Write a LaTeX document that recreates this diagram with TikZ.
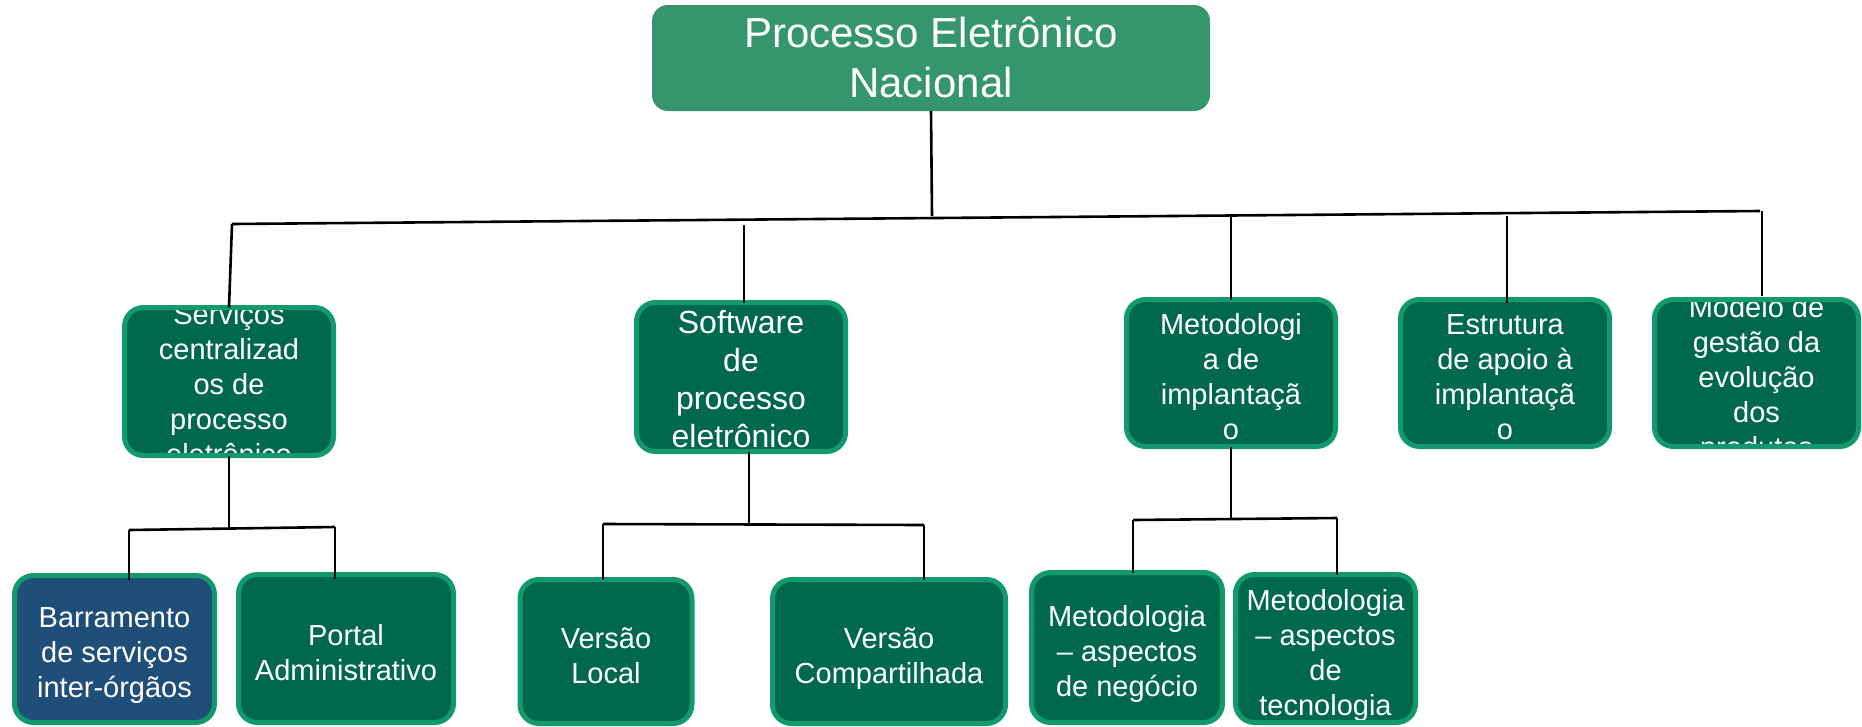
\documentclass[tikz,border=0pt]{standalone}
\usepackage{fontspec}
\setmainfont{Liberation Sans}
\definecolor{topfill}{HTML}{35966E}
\definecolor{dkfill}{HTML}{00694C}
\definecolor{bdcol}{HTML}{12996D}
\definecolor{bluefill}{HTML}{1F4E79}
\newcommand\mkbox[8]{%
  \node[boxbase, fill=#6, minimum width=#4pt, minimum height=#5pt] (#1) at (#2,#3) {};
  \node[lbl, #7] (#1t) at (#2,#3) {#8};
  \draw[bdcol, line width=5pt, rounded corners=19pt] (#1.south west) rectangle (#1.north east);
}
\begin{document}
\begin{tikzpicture}[x=1pt,y=-1pt,
  boxbase/.style={rectangle, rounded corners=19pt, inner sep=0pt, outer sep=0pt, draw=none},
  lbl/.style={text=white, align=center, inner sep=0pt, font=\fontsize{29}{35}\selectfont,
    execute at begin node=\strut, execute at end node=\strut, yshift=-9pt},
  big/.style={font=\fontsize{32}{38}\selectfont, yshift=1.5pt},
  conn/.style={line width=2.6pt, black}]
\useasboundingbox (0,0) rectangle (1862,726);
% top box
\node[boxbase, rounded corners=16pt, fill=topfill, minimum width=558pt, minimum height=106pt] (top) at (931,58) {};
\node[lbl, font=\fontsize{42}{50}\selectfont, yshift=2pt] (topt) at (931,58) {Processo Eletrônico\\Nacional};
% level 2
\mkbox{s1}{229}{381.5}{209}{148}{dkfill}{yshift=1.5pt}{Serviços\\centralizad\\os de\\processo\\eletrônico}
\mkbox{s2}{741}{377}{209}{149}{dkfill}{big}{Software\\de\\processo\\eletrônico}
\mkbox{s3}{1231}{373}{209}{147}{dkfill}{}{Metodologi\\a de\\implantaçã\\o}
\mkbox{s4}{1505}{373}{209}{147}{dkfill}{}{Estrutura\\de apoio à\\implantaçã\\o}
\mkbox{s5}{1756.5}{373}{204}{147}{dkfill}{}{Modelo de\\gestão da\\evolução\\dos\\produtos}
% level 3
\mkbox{c1}{114.5}{649}{200}{147}{bluefill}{}{Barramento\\de serviços\\inter-órgãos}
\mkbox{c2}{346}{648.5}{215}{148}{dkfill}{}{Portal\\Administrativo}
\mkbox{c3}{606}{651.5}{172}{144}{dkfill}{}{Versão\\Local}
\mkbox{c4}{889}{651.5}{233}{144}{dkfill}{}{Versão\\Compartilhada}
\mkbox{c5}{1127}{647.5}{191}{150}{dkfill}{}{Metodologia\\– aspectos\\de negócio}
\mkbox{c6}{1325.5}{648.5}{180}{148}{dkfill}{}{Metodologia\\– aspectos\\de\\tecnologia}
% connector points
\coordinate (jt) at (932,216);
\coordinate (busL) at (232,224);
\coordinate (busR) at (1760,211);
\coordinate (d2) at (744,225);
\coordinate (d3) at (1231,217);
\coordinate (d4) at (1507,216);
\coordinate (d5) at (1762,211);
\coordinate (j1) at (229,528.5);
\coordinate (j1a) at (129,530);
\coordinate (j1b) at (335,527);
\coordinate (j2) at (749,524.5);
\coordinate (j2a) at (603,524);
\coordinate (j2b) at (924,525);
\coordinate (j3) at (1231,519);
\coordinate (j3a) at (1133,520);
\coordinate (j3b) at (1337,518);
% connectors
\draw[conn] (top.south) -- (jt);
\draw[conn] (busL) -- (busR);
\draw[conn] (busL) -- (s1.north);
\draw[conn] (d2) -- (d2 |- s2.north);
\draw[conn] (d3) -- (d3 |- s3.north);
\draw[conn, shorten >=-3pt] (d4) -- (d4 |- s4.north);
\draw[conn, shorten >=4pt] (d5) -- (d5 |- s5.north);
\draw[conn] (s1.south) -- (j1);
\draw[conn] (j1a) -- (j1b);
\draw[conn, shorten >=-4pt] (j1a) -- (j1a |- c1.north);
\draw[conn, shorten >=-4pt] (j1b) -- (j1b |- c2.north);
\draw[conn] (j2 |- s2.south) -- (j2);
\draw[conn] (j2a) -- (j2b);
\draw[conn] (j2a) -- (j2a |- c3.north);
\draw[conn] (j2b) -- (j2b |- c4.north);
\draw[conn] (s3.south) -- (j3);
\draw[conn] (j3a) -- (j3b);
\draw[conn] (j3a) -- (j3a |- c5.north);
\draw[conn] (j3b) -- (j3b |- c6.north);
\end{tikzpicture}
\end{document}
